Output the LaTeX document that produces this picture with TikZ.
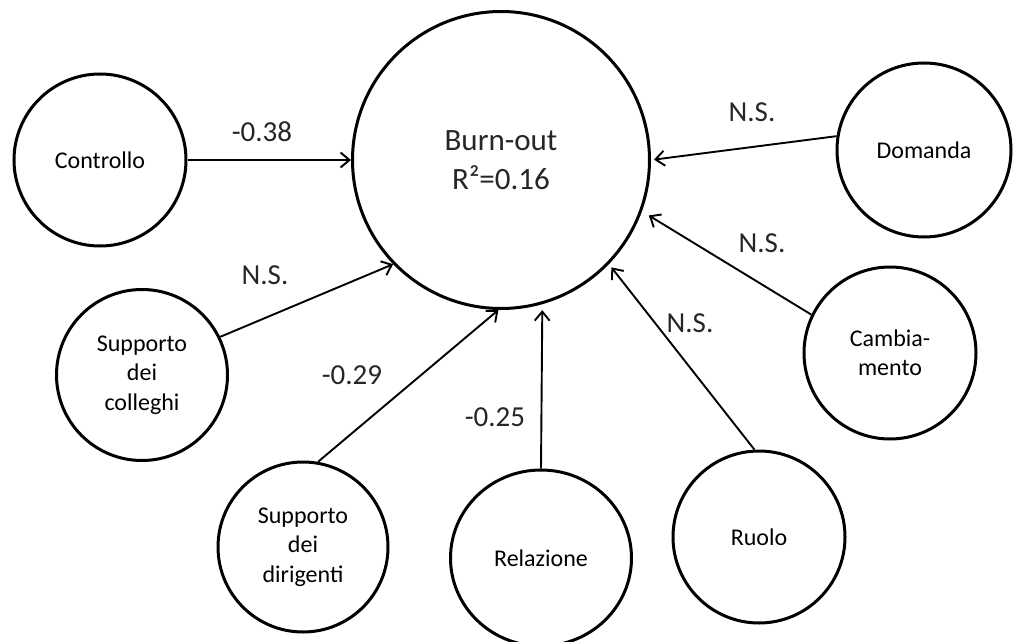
\documentclass[tikz,border=0pt]{standalone}
\usepackage{fontspec}
\setmainfont{Carlito}
\usetikzlibrary{arrows.meta,shapes.geometric}
\begin{document}
\begin{tikzpicture}[x=1pt,y=-1pt,
  factor/.style={draw, circle, line width=3pt, inner sep=0pt, minimum size=172pt,
    align=center, text=black, font=\fontsize{24}{29.5}\selectfont},
  outcome/.style={draw, circle, line width=3pt, inner sep=0pt, minimum size=297pt,
    align=center, text=black!85, font=\fontsize{31}{39}\selectfont},
  link/.style={line width=1.9pt, -{Straight Barb[length=9pt,width=15pt,line width=1.9pt]}},
  coef/.style={inner sep=0pt, text=black!85, font=\fontsize{29}{34}\selectfont}]
  \clip (0,0) rectangle (1015,642);
  \useasboundingbox (0,0) rectangle (1015,642);

  % outcome
  \node[outcome] (burn) at (501,160) {Burn-out\\R²=0.16};

  % predictors
  \node[factor] (ctrl) at (100,160) {Controllo};
  \node[factor, minimum size=174pt] (dom) at (924,150) {Domanda};
  \node[factor] (cam) at (890,353) {Cambia-\\mento};
  \node[factor] (ruo) at (759,537) {Ruolo};
  \node[factor, ellipse, minimum width=181pt, minimum height=176pt] (rel) at (541,558) {Relazione};
  \node[factor, minimum size=170pt] (dir) at (303,547) {Supporto\\dei\\dirigenti};
  \node[factor, minimum size=171pt] (col) at (142,375) {Supporto\\dei\\colleghi};

  % paths
  \draw[link] (ctrl.east) -- (burn.west);
  \draw[link, shorten >=3pt] (dom.171) -- (burn.0);
  \draw[link, shorten >=8pt] (cam.154.6) -- (burn.-20.6);
  \draw[link, shorten >=4pt] (ruo.93.9) -- (burn.-44.2);
  \draw[link, shorten >=6pt] (rel.north) -- (burn.-74.5);
  \draw[link] (dir.80.2) -- (burn.-91.5);
  \draw[link] (col.26.6) -- (burn.-136.6);

  % path coefficients
  \node[coef] (kctrl) at (262,132) {-0.38};
  \node[coef] (kdom) at (752,112) {N.S.};
  \node[coef] (kcam) at (762,243) {N.S.};
  \node[coef] (kruo) at (690,323) {N.S.};
  \node[coef] (krel) at (495,417) {-0.25};
  \node[coef] (kdir) at (352,375) {-0.29};
  \node[coef] (kcol) at (265,275) {N.S.};
\end{tikzpicture}
\end{document}
